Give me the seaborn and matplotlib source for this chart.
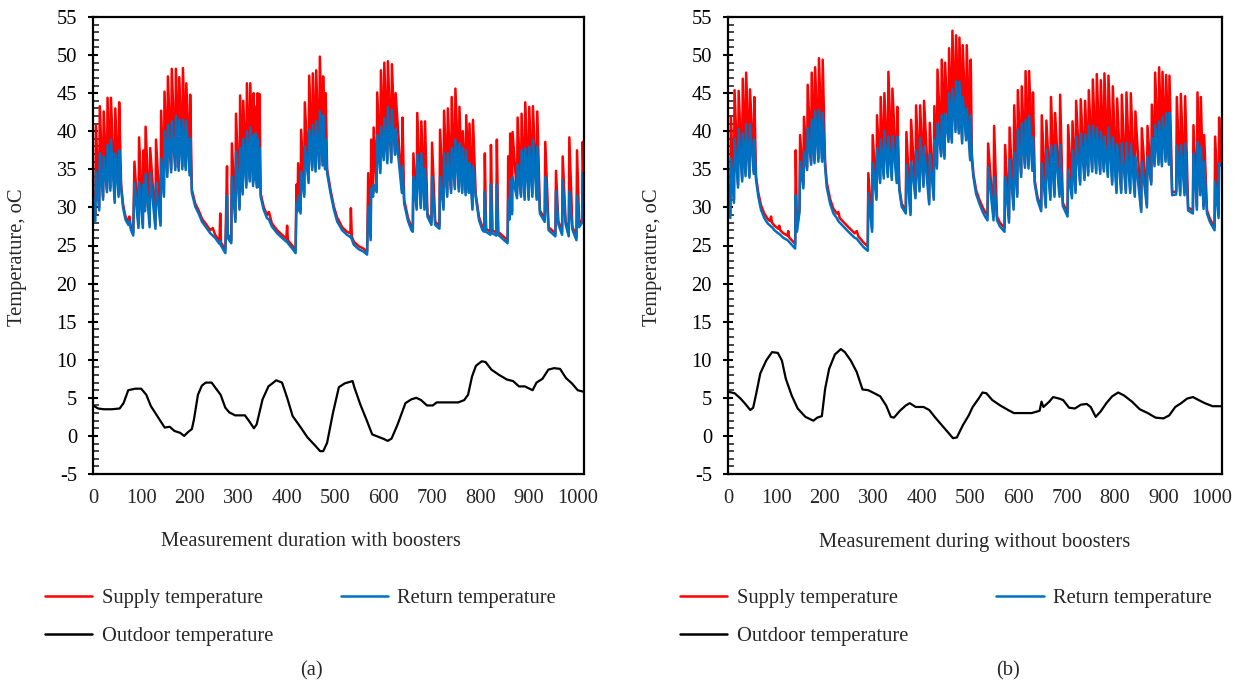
import matplotlib
matplotlib.use("Agg")
import matplotlib.pyplot as plt
import seaborn as sns
from matplotlib.ticker import MultipleLocator
from matplotlib.lines import Line2D

# ---------------- Panel (a): with boosters ----------------
a_x = [
    0, 4.8, 6, 12.8, 14, 20.8, 22, 28.8, 30, 35.8, 37, 44.8, 46, 52.8, 54,
    58, 62, 67, 73, 75, 78, 83,
    85.5, 93.8, 95, 102.8, 104, 107.3, 108.5, 116.8, 118, 128.8, 130, 139.3,
    140.5, 146.3, 147.5, 153.3, 154.5, 161.3, 162.5, 169.8, 171, 176.8, 178, 184.3, 185.5, 191.3, 192.5, 199.3, 200.5,
    204, 211, 218, 225, 232, 242, 247, 252, 261, 262.5, 264, 273,
    276.5, 278, 285.3, 286.5, 293.8, 295, 302.3, 303.5, 308.8, 310, 316.3, 317.5, 323.3, 324.5, 330.3, 331.5, 334, 335, 338.3, 339.5, 342.3, 343.5,
    346, 352, 359, 363, 369, 380, 390, 399, 400.5, 402, 411, 418,
    419.7, 422, 423.2, 428.2, 429.4, 435.8, 437, 444.8, 446, 452.3, 453.5, 459.2, 460.4, 466.8, 468, 473.6, 474.8, 478.8, 480,
    483, 490, 497, 504, 507, 514, 524, 531, 532, 534, 538, 548.5, 558, 565.5,
    567.8, 572.8, 574, 577.8, 579, 585.2, 586.4, 592.8, 594, 599.8, 601, 607.2, 608.4, 615.5, 616.7, 623.2, 624.4, 637.3, 638.5,
    642, 650, 657, 659.8,
    661, 667.8, 669, 676.2, 677.4, 683.8, 685, 690, 698.3, 699.5, 706, 714.8, 716, 723.1, 724.3, 730.8, 732, 738.8, 740, 746.5, 747.7, 754.8, 756, 761.8, 763, 768.8, 770, 775.5, 776.7, 782.8, 784,
    789.5, 796.5, 803.5, 807.2, 808.4, 811, 819.8, 821, 824, 832, 833.2, 836, 848, 855.4,
    856.6, 859.5, 860.7, 864.4, 865.6, 874.8, 876, 883, 884.2, 890.6, 891.8, 898.8, 900, 906.4, 907.6, 915.4, 916.6, 922, 931.9, 933.1, 940, 954, 955.2, 960, 967.8, 969, 975, 981.5, 982.7, 989, 997.4, 998.6, 1003, 1009.1, 1010.3, 1012,
]
a_supply = [
    32.0, 29.0, 40.7, 30.0, 43.3, 31.4, 42.6, 32.4, 44.4, 32.6, 44.4, 31.0, 43.0, 31.8, 43.8,
    33.0, 30.4, 28.8, 28.1, 28.8, 27.5, 26.7,
    36.0, 27.7, 39.2, 27.7, 37.5, 30.0, 40.6, 27.8, 37.8, 27.6, 38.9, 28.0,
    42.7, 31.8, 45.2, 34.5, 47.2, 35.0, 48.2, 35.3, 48.2, 35.2, 47.1, 35.4, 48.3, 35.3, 46.3, 34.6, 44.8,
    32.3, 30.5, 29.6, 28.5, 27.9, 27.0, 27.3, 26.4, 25.6, 29.2, 25.4, 24.4,
    35.4, 26.5, 25.7, 38.4, 28.5, 42.3, 30.1, 44.7, 32.1, 44.0, 33.0, 46.3, 33.8, 46.3, 33.2, 45.0, 34.0, 43.2, 33.0, 45.0, 33.1, 44.9,
    31.8, 30.1, 29.0, 29.4, 27.9, 27.0, 26.4, 25.9, 27.6, 25.7, 25.0, 24.4,
    33.0, 30.0, 35.8, 29.6, 40.2, 31.8, 43.8, 33.6, 47.3, 35.3, 47.6, 35.1, 48.0, 35.5, 49.8, 36.0, 47.2, 35.5, 45.0,
    35.0, 32.3, 30.1, 28.6, 28.3, 27.4, 26.8, 26.6, 29.9, 26.2, 25.5, 24.9, 24.6, 24.2,
    34.5, 26.2, 38.9, 31.8, 40.5, 32.5, 45.1, 35.0, 48.0, 36.6, 49.0, 36.2, 49.2, 36.3, 48.8, 37.3, 45.0, 32.3, 41.8,
    31.0, 28.6, 27.4, 27.2,
    37.1, 30.1, 42.4, 30.3, 41.3, 30.1, 41.3, 29.2, 28.1, 38.5, 28.1, 27.6, 40.2, 30.1, 42.7, 31.8, 43.0, 32.3, 44.5, 32.8, 45.6, 32.5, 43.2, 32.3, 40.0, 32.0, 42.1, 32.3, 41.0, 30.1, 41.5,
    31.8, 28.7, 27.4, 27.1, 37.1, 27.2, 26.8, 38.2, 27.0, 26.7, 38.9, 26.8, 26.1, 25.7,
    36.7, 28.8, 39.7, 29.5, 39.9, 31.6, 41.8, 31.8, 42.3, 31.4, 43.8, 31.4, 43.2, 31.8, 43.3, 31.4, 42.6, 29.6, 28.5, 38.6, 27.4, 26.6, 34.8, 28.2, 26.8, 36.7, 28.2, 26.6, 39.2, 27.5, 26.1, 37.5, 27.8, 28.4, 38.6, 34.0,
]
a_return = [
    31.2, 28.2, 34.7, 29.6, 37.1, 31.0, 36.7, 32.0, 38.2, 32.2, 38.9, 30.6, 37.1, 31.4, 37.5,
    32.5, 30.0, 28.4, 27.7, 28.2, 27.1, 26.3,
    33.2, 27.3, 33.3, 27.3, 33.0, 29.5, 34.4, 27.4, 34.5, 27.2, 33.2, 27.6,
    36.4, 31.4, 40.0, 34.0, 40.8, 34.6, 41.3, 34.9, 42.0, 34.8, 41.5, 35.0, 41.5, 34.9, 41.4, 34.2, 39.1,
    31.9, 30.1, 29.2, 28.1, 27.5, 26.6, 26.3, 26.0, 25.2, 25.6, 25.0, 24.0,
    31.5, 26.0, 25.3, 34.0, 28.1, 37.3, 29.7, 37.8, 31.7, 39.0, 32.6, 40.0, 33.4, 40.5, 32.8, 39.5, 33.6, 39.7, 32.6, 39.0, 32.7, 37.8,
    31.4, 29.7, 28.6, 28.4, 27.5, 26.6, 26.0, 25.5, 25.6, 25.3, 24.6, 24.0,
    30.5, 29.5, 31.5, 29.2, 34.7, 31.4, 38.0, 33.2, 40.2, 34.9, 40.8, 34.7, 41.3, 35.1, 42.6, 35.5, 42.1, 35.0, 38.9,
    34.5, 31.9, 29.7, 28.1, 27.8, 27.0, 26.4, 26.1, 26.3, 25.8, 25.1, 24.5, 24.2, 23.8,
    30.1, 25.7, 32.5, 31.4, 33.0, 32.0, 39.5, 34.5, 40.6, 36.2, 41.7, 35.8, 43.2, 35.9, 42.8, 36.9, 40.2, 31.9, 35.4,
    30.5, 28.2, 27.0, 26.8,
    34.0, 29.7, 36.9, 29.9, 37.1, 29.7, 35.1, 28.8, 27.7, 34.0, 27.7, 27.2, 34.0, 29.7, 37.1, 31.4, 37.1, 31.9, 37.8, 32.4, 38.9, 32.1, 38.4, 31.9, 37.8, 31.6, 37.5, 31.9, 35.8, 29.7, 35.4,
    31.4, 28.3, 27.0, 26.8, 32.0, 26.8, 26.4, 33.0, 26.6, 26.3, 33.0, 26.4, 25.7, 25.3,
    31.0, 28.4, 33.6, 29.1, 34.0, 31.2, 35.6, 31.4, 37.5, 31.0, 37.8, 31.0, 38.0, 31.4, 38.9, 31.0, 38.0, 29.2, 28.1, 34.0, 27.0, 26.2, 32.1, 27.8, 26.4, 33.6, 27.8, 26.2, 32.1, 27.1, 25.7, 31.6, 27.4, 28.0, 34.5, 33.5,
]
a_out_x = [
    0, 10.5, 22.6, 38.8, 55, 63, 72.7, 87.2, 99.4, 110,
    119.5, 123.6, 135.7, 147.8, 158.3, 168, 180, 188, 196, 204,
    208.4, 216.5, 224.6, 232.6, 244.7, 252.8, 263.3, 273, 281, 293.2,
    313.4, 321.5, 332, 337.6, 349.8, 362, 378, 390, 400.6, 411.9,
    426.5, 442.6, 458.8, 468.5, 475, 483, 495, 507.3, 519.4, 535.5,
    539.6, 551.7, 563.8, 576, 588, 600, 608, 616, 628.4, 644.6,
    656.7, 667, 676.9, 689, 701, 709, 733.4, 753.6, 765.8, 773.8,
    782, 790, 802, 810, 822, 838, 854, 866.7, 878.8, 891,
    907, 915, 927.3, 939.4, 951.5, 963.6, 975.8, 988, 1000, 1012,
]
a_outdoor = [
    4.0, 3.6, 3.5, 3.5, 3.6, 4.3, 6.0, 6.2, 6.2, 5.4,
    3.9, 3.5, 2.3, 1.1, 1.2, 0.65, 0.4, 0.0, 0.5, 0.9,
    2.2, 5.4, 6.6, 7.0, 7.0, 6.3, 5.4, 3.7, 3.1, 2.7,
    2.7, 2.0, 1.0, 1.5, 4.8, 6.5, 7.3, 7.0, 5.0, 2.6,
    1.3, -0.2, -1.3, -2.0, -2.0, -0.9, 3.0, 6.4, 6.9, 7.2,
    6.3, 4.1, 2.2, 0.2, -0.1, -0.4, -0.65, -0.35, 1.5, 4.3,
    4.8, 5.0, 4.7, 4.0, 4.0, 4.4, 4.4, 4.4, 4.7, 5.4,
    7.8, 9.2, 9.8, 9.7, 8.7, 8.0, 7.4, 7.2, 6.5, 6.5,
    6.0, 7.0, 7.5, 8.7, 8.9, 8.8, 7.6, 6.9, 6.0, 5.8,
]

# ---------------- Panel (b): without boosters ----------------
b_x = [
    0, 4.8, 6, 12.3, 13.5, 20.8, 22, 29.3, 30.5, 36.3, 37.5, 44.3, 45.5, 53.2, 54.4,
    58, 62.7, 68.2, 75, 82, 87, 89, 91, 96, 104, 106, 108, 114.4, 123, 124.5, 126, 131.6, 138.8,
    140, 142.5, 147.8, 149, 155.8, 157, 163.5, 164.7, 171.8, 173, 178.8, 180, 186.8, 188, 194.5, 195.7,
    200.6, 204, 211, 218, 225, 228, 231, 238.5, 249, 259, 262, 266, 269.5, 280, 288.8,
    290, 297.8, 299, 306.8, 308, 314.4, 315.6, 322, 323.2, 330.3, 331.5, 338.6, 339.8, 348.8, 350,
    354, 359, 367.5, 368.7, 377.2, 378.4, 387.5, 388.7, 395.8, 397, 404, 405.2, 415.8, 417, 425.3, 426.5,
    431.8, 433, 440.5, 441.7, 447.4, 448.6, 455.7, 456.9, 462.6, 463.8, 470.2, 471.4, 477.1, 478.3, 483.9, 485.1, 492.2, 493.4, 500.5, 501.7,
    504, 507.2, 512.7, 519.6, 526.5, 531.3, 536.4, 537.6, 548.8, 550, 556, 562, 571.5, 572.7, 580.8, 582, 590.3, 591.5, 597.8, 599, 605.9, 607.1, 613.8, 615, 621.1, 622.3, 629.1, 630.3,
    634, 639.5, 647.3, 648.5, 656.8, 658, 666.3, 667.5, 674.8, 676, 685.2, 686.4, 692, 701.8, 703, 710.8, 712, 718.3, 719.5, 727.8, 729, 736.8, 738, 744.5, 745.7, 752.8, 754, 761, 762.2, 769.3, 770.5, 776.8, 778, 785.1, 786.3, 794.1, 795.3, 803, 804.2, 812.7, 813.9, 822.3, 823.5, 831.3, 832.5, 840.8, 842,
    854, 855.2, 865.8, 867, 874.8, 876, 881.6, 882.8, 889.8, 891, 896.8, 898, 904.3, 905.5, 911.2, 912.4, 918, 926.4, 927.6, 934.7, 935.9, 943.6, 944.8, 951, 960.8, 962, 969.1, 970.3, 976, 977.2, 982.9, 984.1, 990, 996, 1005.6, 1006.8, 1013.9, 1015.1, 1017,
]
b_supply = [
    33.0, 29.0, 41.9, 31.0, 45.4, 33.0, 45.3, 33.8, 46.9, 34.5, 47.7, 34.3, 45.5, 34.8, 44.5,
    34.0, 31.9, 30.3, 29.2, 28.5, 28.2, 28.8, 28.0, 27.6, 27.2, 27.6, 27.0, 26.6, 26.3, 26.9, 26.1, 25.7, 25.2,
    37.5, 27.4, 29.8, 39.5, 33.0, 41.9, 35.3, 46.1, 36.0, 47.7, 36.2, 48.4, 36.4, 49.6, 36.4, 49.4,
    36.0, 33.3, 31.1, 29.8, 29.2, 29.4, 28.6, 28.1, 27.4, 26.8, 26.6, 26.9, 26.2, 25.4, 24.9,
    34.5, 27.2, 39.5, 31.4, 42.1, 33.6, 44.5, 34.2, 45.0, 34.4, 47.8, 34.0, 45.6, 33.6, 43.2,
    32.7, 30.5, 29.6, 39.9, 29.4, 41.5, 31.6, 43.4, 32.5, 43.4, 33.1, 44.0, 30.8, 41.1, 31.4, 43.3,
    35.5, 48.1, 37.1, 49.4, 36.8, 49.0, 39.0, 50.9, 38.9, 53.2, 40.3, 52.6, 40.1, 52.3, 38.8, 51.3, 39.2, 51.3, 36.6, 49.4,
    37.0, 34.4, 32.3, 31.0, 30.0, 29.4, 29.0, 38.4, 28.8, 40.7, 28.8, 28.0, 27.3, 38.2, 28.5, 40.5, 30.2, 43.4, 31.8, 45.4, 34.4, 45.9, 35.6, 47.9, 35.5, 47.9, 35.2, 45.1,
    33.5, 31.4, 30.0, 42.1, 30.4, 41.4, 31.4, 44.5, 31.8, 42.4, 31.8, 44.8, 30.6, 29.3, 40.8, 31.6, 41.3, 32.3, 44.0, 33.4, 44.2, 34.0, 44.0, 34.6, 45.4, 35.1, 46.8, 34.9, 47.5, 34.8, 46.7, 35.1, 47.6, 34.4, 47.3, 33.4, 45.9, 32.3, 44.3, 32.3, 44.8, 32.3, 45.1, 32.3, 45.0, 31.8, 42.6,
    29.8, 40.4, 30.4, 40.7, 33.4, 43.5, 35.8, 47.7, 36.0, 48.4, 35.8, 47.8, 36.4, 47.4, 36.0, 47.3, 32.0, 32.1, 44.5, 32.0, 44.9, 32.0, 44.6, 30.0, 29.6, 40.8, 30.1, 45.1, 32.0, 44.5, 30.2, 39.5, 29.6, 28.5, 27.4, 39.3, 29.0, 41.8, 36.0,
]
b_return = [
    31.4, 28.6, 36.4, 30.6, 39.0, 32.6, 40.3, 33.4, 39.7, 34.1, 40.9, 33.9, 40.9, 34.4, 38.9,
    33.6, 31.4, 29.7, 28.6, 27.9, 27.6, 27.5, 27.4, 27.0, 26.6, 26.5, 26.4, 26.0, 25.7, 25.6, 25.5, 25.1, 24.6,
    31.6, 26.8, 29.4, 36.0, 32.5, 37.3, 34.9, 40.4, 35.6, 41.5, 35.8, 42.6, 36.0, 42.8, 36.0, 42.4,
    35.4, 32.7, 30.5, 29.2, 28.6, 28.2, 28.0, 27.5, 26.8, 26.2, 26.0, 25.9, 25.6, 24.8, 24.3,
    31.9, 26.8, 35.8, 31.0, 37.8, 33.2, 38.9, 33.8, 40.0, 34.0, 39.3, 33.6, 39.3, 33.2, 39.3,
    32.3, 30.1, 29.2, 35.6, 29.0, 36.0, 31.2, 37.5, 32.1, 39.1, 32.7, 38.0, 30.4, 37.0, 31.0, 38.9,
    35.1, 41.0, 36.7, 42.1, 36.4, 42.3, 38.6, 45.0, 38.5, 45.5, 39.9, 46.6, 39.7, 46.5, 38.4, 44.5, 38.8, 43.0, 36.2, 42.1,
    36.2, 34.0, 31.8, 30.5, 29.4, 28.8, 28.3, 35.3, 28.3, 34.0, 28.3, 27.5, 26.8, 34.0, 28.0, 36.3, 29.7, 37.2, 31.4, 40.2, 34.0, 41.0, 35.2, 41.5, 35.1, 42.0, 34.8, 39.2,
    33.1, 31.0, 29.5, 35.8, 30.0, 37.6, 31.0, 38.1, 31.4, 38.2, 31.4, 38.2, 30.2, 28.8, 34.9, 31.2, 37.5, 31.9, 39.3, 33.0, 39.7, 33.6, 39.6, 34.2, 40.7, 34.7, 40.7, 34.5, 40.4, 34.4, 39.9, 34.7, 39.3, 34.0, 40.5, 33.0, 39.2, 31.9, 38.3, 31.9, 38.4, 31.9, 38.5, 31.9, 38.3, 31.4, 36.7,
    29.4, 36.0, 30.0, 36.7, 33.0, 39.1, 35.4, 40.8, 35.6, 41.3, 35.4, 41.9, 36.0, 42.4, 35.6, 42.4, 31.6, 31.7, 38.1, 31.6, 38.2, 31.6, 38.4, 29.6, 29.2, 37.1, 29.7, 38.6, 31.6, 38.0, 29.8, 36.0, 29.2, 28.1, 27.0, 33.4, 28.6, 35.8, 35.5,
]
b_out_x = [
    0, 13.8, 26, 35.8, 46, 52, 58.5, 66.7, 79, 91,
    103, 111.4, 119.5, 131.7, 144, 160, 176.4, 184.6, 194, 200.8,
    209, 221, 233.3, 241.5, 253.7, 266, 278, 290, 302.4, 314.6,
    326.8, 336.6, 343, 355.3, 367.5, 375.6, 388, 404, 416, 428.5,
    444.7, 457, 465, 473, 485.4, 497.6, 505.7, 518, 526, 534,
    546.3, 562.6, 578.9, 591, 611.4, 627.6, 644, 648, 652, 664,
    672, 684.6, 692.7, 705, 717, 729.3, 741.5, 749.6, 760, 770,
    782, 794, 806.5, 818.7, 835, 851, 867.5, 883.7, 900, 912,
    924.4, 936.6, 948.8, 961, 973, 985.4, 1001.6, 1018,
]
b_outdoor = [
    5.8, 5.6, 4.9, 4.2, 3.4, 3.7, 5.6, 8.2, 9.9, 11.0,
    10.9, 9.9, 7.5, 5.3, 3.6, 2.5, 2.0, 2.4, 2.6, 6.2,
    8.8, 10.7, 11.4, 11.0, 9.9, 8.4, 6.1, 6.0, 5.6, 5.2,
    4.0, 2.5, 2.4, 3.3, 4.0, 4.3, 3.8, 3.8, 3.4, 2.4,
    1.2, 0.3, -0.3, -0.2, 1.4, 2.7, 3.8, 4.9, 5.7, 5.6,
    4.7, 4.0, 3.4, 3.0, 3.0, 3.0, 3.3, 4.5, 3.8, 4.5,
    5.1, 4.9, 4.7, 3.7, 3.6, 4.1, 4.2, 3.8, 2.5, 3.2,
    4.3, 5.2, 5.7, 5.3, 4.5, 3.5, 3.0, 2.4, 2.3, 2.7,
    3.8, 4.3, 4.9, 5.1, 4.7, 4.3, 3.9, 3.9,
]

x_ticks = [0, 100, 200, 300, 400, 500, 600, 700, 800, 900, 1000]
legend_labels = ["Supply temperature", "Outdoor temperature", "Return temperature"]
xlabels = ["Measurement duration with boosters", "Measurement during without boosters"]
ylabel = "Temperature, oC"
captions = ["(a)", "(b)"]

assert len(a_x) == len(a_supply) == len(a_return)
assert len(b_x) == len(b_supply) == len(b_return)
assert len(a_out_x) == len(a_outdoor) and len(b_out_x) == len(b_outdoor)

# ---------------- styling ----------------
sns.set_theme(style="white")
plt.rcParams['font.family'] = ['Liberation Serif', 'DejaVu Serif']
plt.rcParams['axes.unicode_minus'] = False

RED, BLUE, BLACK = '#FF0000', '#0070C0', '#000000'
W, H = 1247, 688
FS = 14.8

fig = plt.figure(figsize=(W / 100, H / 100), dpi=100)
ax_a = fig.add_axes([93 / W, 1 - 474 / H, (584 - 93) / W, (474 - 17) / H])
ax_b = fig.add_axes([728 / W, 1 - 474 / H, (1222 - 728) / W, (474 - 17) / H])


def draw(ax, x, sup, ret, ox, oy, xmax):
    sns.lineplot(x=x, y=sup, ax=ax, color=RED, lw=1.8, estimator=None, sort=False)
    sns.lineplot(x=x, y=ret, ax=ax, color=BLUE, lw=1.8, estimator=None, sort=False)
    sns.lineplot(x=ox, y=oy, ax=ax, color=BLACK, lw=1.6, estimator=None, sort=False)
    ax.set_xlim(0, xmax)
    ax.set_ylim(-5, 55)
    ax.set_xticks(x_ticks)
    ax.set_xticklabels([str(t) for t in x_ticks])
    ax.yaxis.set_major_locator(MultipleLocator(5))
    ax.yaxis.set_minor_locator(MultipleLocator(1))
    ax.tick_params(axis='y', which='major', left=True, direction='inout', length=7,
                   width=1.5, labelsize=FS, pad=8, colors=BLACK)
    ax.tick_params(axis='y', which='minor', left=True, direction='in', length=4, width=1.2)
    ax.tick_params(axis='x', which='both', bottom=False, length=0, labelsize=FS, pad=11)
    for sp in ax.spines.values():
        sp.set_color(BLACK)
        sp.set_linewidth(1.6)
        sp.set_visible(True)
    ax.set_xlabel('')
    ax.set_ylabel('')
    ax.grid(False)
    ax.set_facecolor('white')


draw(ax_a, a_x, a_supply, a_return, a_out_x, a_outdoor, 1013)
draw(ax_b, b_x, b_supply, b_return, b_out_x, b_outdoor, 1021)

handles = [Line2D([], [], color=RED, lw=1.8), Line2D([], [], color=BLACK, lw=1.8),
           Line2D([], [], color=BLUE, lw=1.8)]
for lx, cs in [(45, 3.3), (680, 4.3)]:
    fig.legend(handles=handles, labels=legend_labels, ncol=2, loc='upper left',
               bbox_to_anchor=(lx / W, 1 - 589 / H), frameon=False, fontsize=FS,
               handlelength=2.3, handletextpad=0.45, columnspacing=cs,
               labelspacing=0.9, borderaxespad=0, borderpad=0)

fig.text(311 / W, 1 - 542 / H, xlabels[0], ha='center', va='center', fontsize=FS)
fig.text(975 / W, 1 - 542 / H, xlabels[1], ha='center', va='center', fontsize=FS)
fig.text(18 / W, 1 - 257 / H, ylabel, ha='center', va='center', rotation=90, fontsize=FS)
fig.text(652 / W, 1 - 257 / H, ylabel, ha='center', va='center', rotation=90, fontsize=FS)
fig.text(311 / W, 1 - 671 / H, captions[0], ha='center', va='center', fontsize=FS)
fig.text(1008 / W, 1 - 671 / H, captions[1], ha='center', va='center', fontsize=FS)

fig.savefig('out.png', dpi=100, facecolor='white')
